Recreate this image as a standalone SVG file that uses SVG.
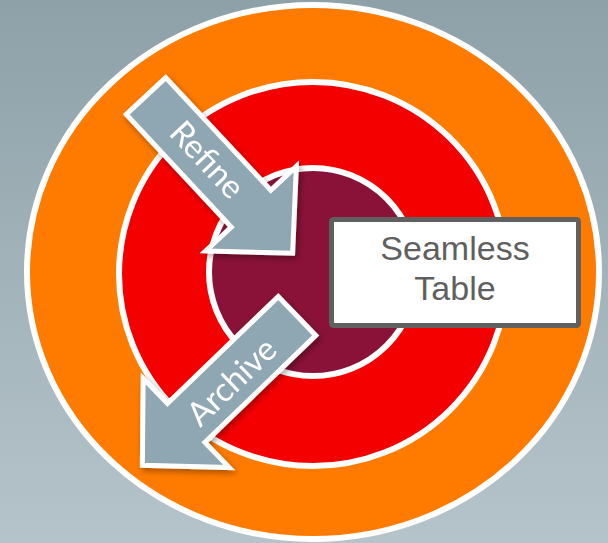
<svg xmlns="http://www.w3.org/2000/svg" width="608" height="543" viewBox="0 0 608 543">
  <defs>
    <linearGradient id="bg" x1="0" y1="0" x2="0" y2="1">
      <stop offset="0" stop-color="#8ea1a8"/>
      <stop offset="1" stop-color="#b5c4ca"/>
    </linearGradient>
    <filter id="shadow" x="-20%" y="-20%" width="140%" height="140%">
      <feDropShadow dx="2" dy="3" stdDeviation="3" flood-color="#000" flood-opacity="0.35"/>
    </filter>
    <polygon id="arrowShape" points="0,-27 154,-27 154,-62 215,0 154,62 154,27 0,27"/>
  </defs>
  <style>
    .ring { stroke: #ffffff; stroke-width: 6; }
    .arrow { fill: #8fa7b2; stroke: #ffffff; stroke-width: 5; stroke-linejoin: miter; }
    .alabel { font-family: Lato, "Open Sans", "Liberation Sans", sans-serif; font-size: 33px; fill: #ffffff; text-anchor: middle; }
    .blabel { font-family: "Liberation Sans", Arial, sans-serif; font-size: 34px; fill: #5f5f5f; text-anchor: middle; }
  </style>
  <rect x="0" y="0" width="608" height="543" fill="url(#bg)"/>

  <g id="outer-ring">
    <ellipse class="ring" cx="313" cy="272" rx="286" ry="267" fill="#ff7b00"/>
  </g>
  <g id="middle-ring">
    <ellipse class="ring" cx="313" cy="274" rx="194" ry="192" fill="#f50000"/>
  </g>
  <g id="core">
    <circle class="ring" cx="313" cy="272" r="104" fill="#8a1238"/>
  </g>

  <g id="connectors">
    <g id="refine-arrow" filter="url(#shadow)">
      <use href="#arrowShape" class="arrow" transform="translate(146,96) rotate(47)"/>
      <text class="alabel" transform="translate(207,160) rotate(47)" x="0" y="11">Refine</text>
    </g>
    <g id="archive-arrow" filter="url(#shadow)">
      <use href="#arrowShape" class="arrow" transform="translate(297,316) rotate(136)"/>
      <text class="alabel" transform="translate(232,382) rotate(-44)" x="0" y="11">Archive</text>
    </g>
  </g>

  <g id="seamless-table">
    <rect x="331.5" y="219.5" width="247" height="106" rx="2" fill="#ffffff" stroke="#606060" stroke-width="5"/>
    <text class="blabel"><tspan x="455" y="260">Seamless</tspan><tspan x="455" y="300">Table</tspan></text>
  </g>
</svg>
